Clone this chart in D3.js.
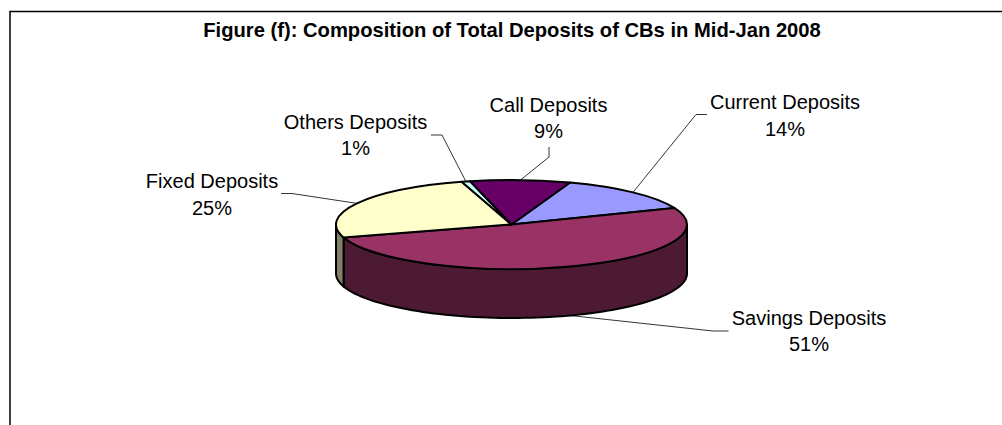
<!DOCTYPE html>
<html>
<head>
<meta charset="utf-8">
<script src="https://cdn.jsdelivr.net/npm/d3@7"></script>
<style>
html,body{margin:0;padding:0;background:#fff;overflow:hidden}
svg{display:block}
text{font-family:"Liberation Sans",Arial,sans-serif;fill:#000}
</style>
</head>
<body>
<svg id="chart" width="1002" height="425"></svg>
<script>
const categories = ["Current Deposits","Savings Deposits","Fixed Deposits","Others Deposits","Call Deposits"];
const values = [13.5,51.4,25.1,0.8,9.2];
const displayLabels = ["14%","51%","25%","1%","9%"];
const topColors = ["#9999FF","#993366","#FFFFCC","#CCFFFF","#660066"];
const sideColors = ["#4D4D80","#4D1A33","#808066","#668080","#330033"];
const title = "Figure (f): Composition of Total Deposits of CBs in Mid-Jan 2008";

// label layout: [text centre x, first baseline y, elbow x, elbow y, leader start x]
const labelX = [785,809,212,355.5,548.5];
const labelY = [109,324.5,188,128.5,111.5];
const elbowX = [696,713,292,442,549];
const elbowY = [114.5,331,193.5,135,157];
const leaderX = [707,728.5,281,431,549];
const leaderY = [114.5,331,193.5,135,147];

const W=1002,H=425,cx=511.5,cy=224.5,rx=175.5,ry=44.5,depth=49;
const svg=d3.select("#chart");
const rad=d=>d*Math.PI/180;
const px=a=>cx+rx*Math.sin(a), py=a=>cy-ry*Math.cos(a);

svg.append("path")
  .attr("d",d3.line()([[10,H],[10,11.5],[W,11.5]]))
  .attr("fill","none").attr("stroke","#000").attr("stroke-width",1.5);

svg.append("text").attr("x",512).attr("y",37).attr("text-anchor","middle")
  .attr("font-size",20.2).attr("font-weight","bold").text(title);

const pie=d3.pie().sort(null).startAngle(rad(19.5)).endAngle(rad(379.5));
const arcs=pie(values);

// side wall, front half only
const area=d3.area().x(a=>px(a)).y0(a=>py(a)).y1(a=>py(a)+depth);
const gSide=svg.append("g");
arcs.forEach((d,i)=>{
  const a0=Math.max(d.startAngle,Math.PI/2), a1=Math.min(d.endAngle,Math.PI*1.5);
  if(a1<=a0) return;
  const n=80, samples=d3.range(n+1).map(k=>a0+(a1-a0)*k/n);
  gSide.append("path").attr("d",area(samples))
    .attr("fill",sideColors[i]).attr("stroke","#000").attr("stroke-width",2).attr("stroke-linejoin","round");
});

// top face
const arcGen=d3.arc().innerRadius(0).outerRadius(100);
svg.append("g").attr("transform",`translate(${cx},${cy}) scale(${rx/100},${ry/100})`)
  .selectAll("path").data(arcs).join("path")
  .attr("d",arcGen).attr("fill",(d,i)=>topColors[i])
  .attr("stroke","#000").attr("stroke-width",2).attr("stroke-linejoin","round")
  .attr("vector-effect","non-scaling-stroke");

// leaders
arcs.forEach((d,i)=>{
  const m=(d.startAngle+d.endAngle)/2;
  const front=Math.cos(m)<0;
  const end=[px(m),py(m)+(front?depth:0)];
  svg.append("path").attr("d",d3.line()([[leaderX[i],leaderY[i]],[elbowX[i],elbowY[i]],end]))
    .attr("fill","none").attr("stroke","#000").attr("stroke-width",0.8);
});

// labels
categories.forEach((c,i)=>{
  const t=svg.append("text").attr("text-anchor","middle").attr("font-size",20);
  t.append("tspan").attr("x",labelX[i]).attr("y",labelY[i]).text(c);
  t.append("tspan").attr("x",labelX[i]).attr("y",labelY[i]+26.5).text(displayLabels[i]);
});
</script>
</body>
</html>
